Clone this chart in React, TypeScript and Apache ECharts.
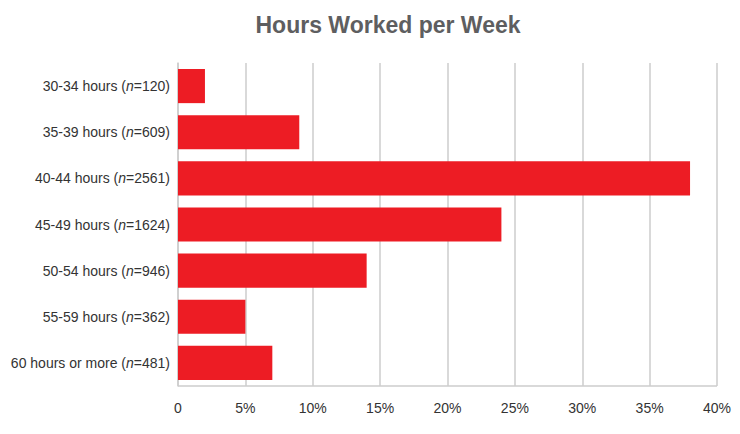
import React, { useEffect, useRef } from "react";
import * as echarts from "echarts";

const ranges = ["30-34 hours", "35-39 hours", "40-44 hours", "45-49 hours", "50-54 hours", "55-59 hours", "60 hours or more"];
const counts = [120, 609, 2561, 1624, 946, 362, 481];
const percents = [2, 9, 38, 24, 14, 5, 7];
const xTicks = [0, 5, 10, 15, 20, 25, 30, 35, 40];

export default function App() {
  const ref = useRef<HTMLDivElement>(null);
  useEffect(() => {
    if (!ref.current) return;
    const chart = echarts.init(ref.current, null, { renderer: "svg" });
    const font = "'Liberation Sans', Arial, Helvetica, sans-serif";
    chart.setOption({
      animation: false,
      title: {
        text: "Hours Worked per Week",
        left: 383,
        top: 8,
        textAlign: "center",
        textStyle: { fontFamily: font, fontSize: 23, fontWeight: "bold", color: "#5e5e60" },
      },
      grid: { left: 178, right: 23, top: 63, bottom: 48, containLabel: false },
      xAxis: {
        type: "value",
        min: 0,
        max: 40,
        interval: 5,
        axisLine: { show: false },
        axisTick: { show: false },
        splitLine: { show: true, lineStyle: { color: "#cccccc", width: 1.5 } },
        axisLabel: {
          margin: 15,
          fontFamily: font,
          fontSize: 14,
          color: "#333333",
          formatter: (v: number) => (xTicks.includes(v) ? (v === 0 ? "0" : v + "%") : ""),
        },
      },
      yAxis: {
        type: "category",
        inverse: true,
        data: ranges.map((r, i) => r + "|" + counts[i]),
        axisLine: { show: true, lineStyle: { color: "#cccccc", width: 1.5 } },
        axisTick: { show: false },
        axisLabel: {
          margin: 8,
          formatter: (v: string) => {
            const [r, c] = v.split("|");
            return "{a|" + r + " (}{i|n}{a|=" + c + ")}";
          },
          rich: {
            a: { fontFamily: font, fontSize: 14, color: "#333333" },
            i: { fontFamily: font, fontSize: 14, color: "#333333", fontStyle: "italic" },
          },
        },
      },
      graphic: [
        {
          type: "line",
          shape: { x1: 178, y1: 386, x2: 717, y2: 386 },
          style: { stroke: "#cccccc", lineWidth: 1.5 },
          z: 1,
        },
      ],
      series: [
        {
          type: "bar",
          data: percents,
          barCategoryGap: "26%",
          itemStyle: { color: "#ED1C24" },
          z: 3,
        },
      ],
    });
    return () => chart.dispose();
  }, []);
  return <div ref={ref} style={{ width: 740, height: 434, position: "absolute", left: 0, top: 0 }} />;
}
